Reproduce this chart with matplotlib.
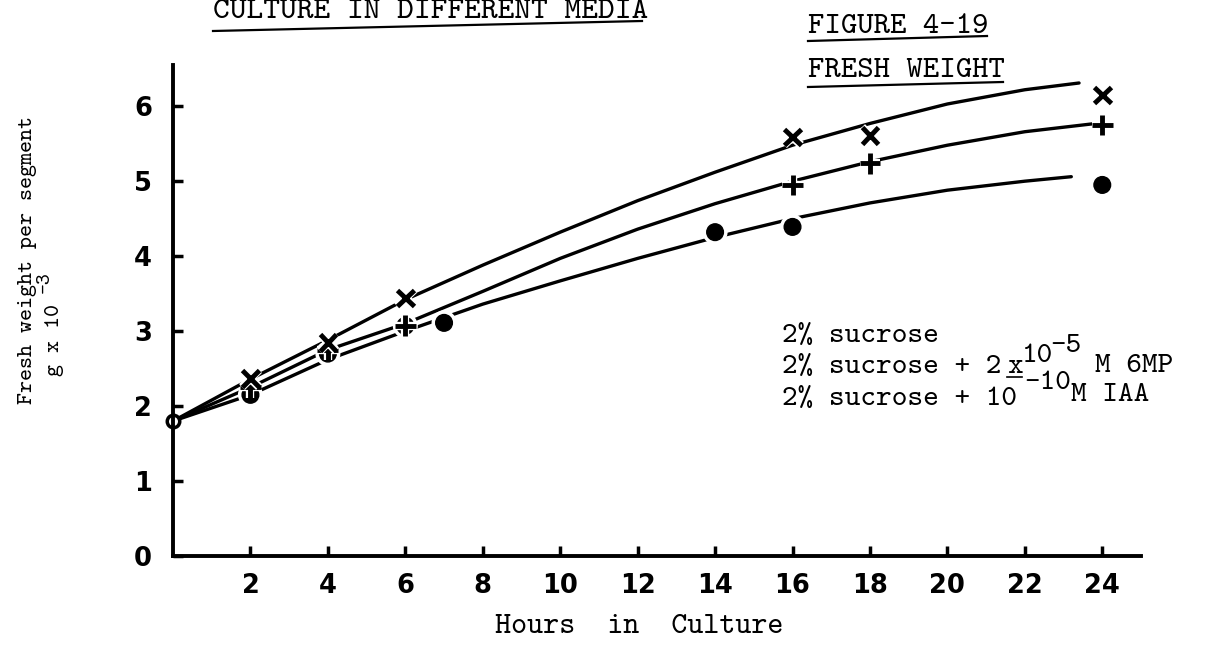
import matplotlib
matplotlib.use('Agg')
import matplotlib.pyplot as plt
import matplotlib.patheffects as pe
from matplotlib.lines import Line2D

# measured points (hours in culture, fresh weight g x 10^-3)
start_hour = 0
start_weight = 1.8

cross_hours = [2, 4, 6, 16, 18, 24]
cross_weight = [2.37, 2.85, 3.44, 5.59, 5.61, 6.15]

plus_hours = [2, 4, 6, 16, 18, 24]
plus_weight = [2.25, 2.75, 3.07, 4.95, 5.24, 5.75]

dot_hours = [2, 4, 6, 7, 14, 16, 24]
dot_weight = [2.15, 2.7, 3.07, 3.11, 4.32, 4.39, 4.95]

# hand drawn trend curves
top_curve_hours = [0, 2, 4, 6, 8, 10, 12, 14, 16, 18, 20, 22, 23.4]
top_curve_weight = [1.8, 2.36, 2.88, 3.42, 3.88, 4.32, 4.74, 5.12, 5.48, 5.77, 6.03, 6.22, 6.31]

mid_curve_hours = [0, 2, 4, 6, 8, 10, 12, 14, 16, 18, 20, 22, 24]
mid_curve_weight = [1.8, 2.25, 2.75, 3.1, 3.53, 3.97, 4.36, 4.7, 5.0, 5.26, 5.48, 5.66, 5.78]

low_curve_hours = [0, 2, 4, 6, 8, 10, 12, 14, 16, 18, 20, 22, 23.2]
low_curve_weight = [1.8, 2.15, 2.62, 3.0, 3.36, 3.67, 3.97, 4.25, 4.5, 4.71, 4.88, 5.0, 5.06]

x_ticks = [2, 4, 6, 8, 10, 12, 14, 16, 18, 20, 22, 24]
y_ticks = [0, 1, 2, 3, 4, 5, 6]

W, H = 1217, 649
TYPE = 'cmtt10'   # typewriter look
HAND = {'family': 'DejaVu Sans', 'weight': 'bold', 'size': 18.5}
KEY = 21.5


def px(x, y):
    # pixel position (from top left) -> figure fraction
    return x / W, 1 - y / H


def rule(x0, y0, x1, y1, lw=1.6):
    a, b = px(x0, y0)
    c, d = px(x1, y1)
    fig.add_artist(Line2D([a, c], [b, d], color='black', lw=lw))


fig = plt.figure(figsize=(W / 100, H / 100), dpi=100)
ax = fig.add_axes([173 / W, (H - 556) / H, 968 / W, 491 / H])
ax.set_xlim(0, 25)
ax.set_ylim(0, 6.55)

for s in ['top', 'right']:
    ax.spines[s].set_visible(False)
for s in ['left', 'bottom']:
    ax.spines[s].set_linewidth(2.8)

# curves
for hx, wy in [(top_curve_hours, top_curve_weight),
               (mid_curve_hours, mid_curve_weight),
               (low_curve_hours, low_curve_weight)]:
    ax.plot(hx, wy, color='black', lw=2.4, solid_capstyle='round')

halo = [pe.withStroke(linewidth=6, foreground='white')]
ax.plot(dot_hours, dot_weight, ls='none', marker='o', ms=12, mfc='black', mec='black',
        path_effects=halo)
ax.plot(plus_hours, plus_weight, ls='none', marker='+', ms=15, mew=3.5, color='black',
        path_effects=halo)
ax.plot(cross_hours, cross_weight, ls='none', marker='x', ms=12, mew=3.5, color='black',
        path_effects=halo)
ax.plot(start_hour, start_weight, ls='none', marker='o', ms=9, mfc='white', mec='black',
        mew=2.5, clip_on=False)

ax.set_xticks(x_ticks)
ax.set_yticks(y_ticks)
ax.set_xticklabels([str(t) for t in x_ticks], fontdict=HAND)
ax.set_yticklabels([str(t) for t in y_ticks], fontdict=HAND)
ax.tick_params(axis='both', direction='in', length=7, width=2.5)
ax.tick_params(axis='x', pad=12)
ax.tick_params(axis='y', pad=15)

# axis titles
fig.text(*px(639, 627), 'Hours  in  Culture', family=TYPE, fontsize=22,
         ha='center', va='center')
fig.text(*px(28, 260), 'Fresh weight per segment', family=TYPE, fontsize=16.5,
         rotation=90, ha='center', va='center')
fig.text(*px(55, 340), 'g x 10', family=TYPE, fontsize=16.5,
         rotation=90, ha='center', va='center')
fig.text(*px(45, 282), '-3', family=TYPE, fontsize=15,
         rotation=90, ha='center', va='center')

# headings
fig.text(*px(213, 18), 'CULTURE IN DIFFERENT MEDIA', family=TYPE, fontsize=23,
         ha='left', va='baseline')
fig.text(*px(808, 33), 'FIGURE 4-19', family=TYPE, fontsize=22.5, ha='left', va='baseline')
fig.text(*px(808, 77), 'FRESH WEIGHT', family=TYPE, fontsize=22.5, ha='left', va='baseline')
rule(213, 31, 642, 21)
rule(808, 41, 987, 36)
rule(808, 87, 1003, 82)

# key
fig.text(*px(782, 342), '2% sucrose', family=TYPE, fontsize=KEY, ha='left', va='baseline')
fig.text(*px(782, 373), '2% sucrose + 2', family=TYPE, fontsize=KEY, ha='left', va='baseline')
fig.text(*px(1007, 373), 'x', family=TYPE, fontsize=KEY, ha='left', va='baseline')
rule(1007, 377, 1022, 377, lw=1.2)
fig.text(*px(1022, 362), '10', family=TYPE, fontsize=KEY, ha='left', va='baseline')
fig.text(*px(1050, 352), '-5', family=TYPE, fontsize=KEY, ha='left', va='baseline')
fig.text(*px(1095, 372), 'M 6MP', family=TYPE, fontsize=KEY, ha='left', va='baseline')
fig.text(*px(782, 405), '2% sucrose + 10', family=TYPE, fontsize=KEY, ha='left', va='baseline')
fig.text(*px(1024, 389), '-10', family=TYPE, fontsize=KEY, ha='left', va='baseline')
fig.text(*px(1071, 401), 'M IAA', family=TYPE, fontsize=KEY, ha='left', va='baseline')

fig.savefig('out.png', dpi=100)
